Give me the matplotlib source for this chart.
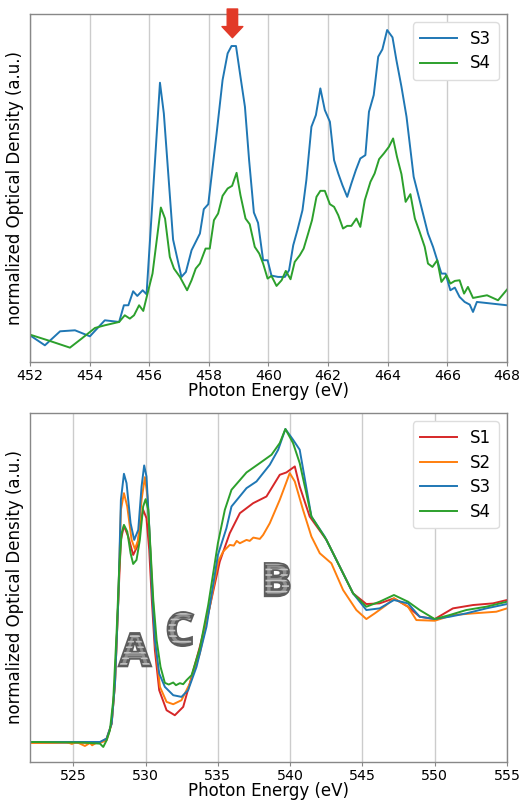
import matplotlib
matplotlib.use("Agg")
import matplotlib.pyplot as plt
import matplotlib.patheffects as pe

plt.rcParams['font.family'] = ['DejaVu Sans']

# ---- Ti L-edge (top panel) ----
ti_e_s3 = [452.00, 452.50, 453.01, 453.51, 454.01, 454.51, 454.99, 455.15, 455.30, 455.46,
           455.60, 455.78, 455.91, 456.36, 456.49, 456.80, 457.08, 457.23, 457.42, 457.56,
           457.70, 457.83, 457.98, 458.26, 458.46, 458.63, 458.76, 458.91, 459.06, 459.21,
           459.35, 459.51, 459.65, 459.82, 459.97, 460.10, 460.32, 460.55, 460.69, 460.83,
           460.97, 461.14, 461.27, 461.44, 461.59, 461.74, 461.89, 462.06, 462.20, 462.34,
           462.48, 462.64, 462.78, 462.93, 463.08, 463.25, 463.37, 463.53, 463.68, 463.82,
           463.98, 464.16, 464.29, 464.46, 464.63, 464.87, 465.07, 465.35, 465.52, 465.66,
           465.80, 465.94, 466.10, 466.25, 466.41, 466.58, 466.75, 466.86, 466.99, 468.00]
ti_od_s3 = [0.080, 0.050, 0.092, 0.095, 0.077, 0.125, 0.120, 0.170, 0.170, 0.212,
            0.198, 0.215, 0.203, 0.837, 0.745, 0.367, 0.255, 0.270, 0.335, 0.360,
            0.385, 0.458, 0.473, 0.685, 0.845, 0.925, 0.947, 0.947, 0.855, 0.765,
            0.605, 0.448, 0.417, 0.305, 0.305, 0.259, 0.255, 0.255, 0.275, 0.350,
            0.395, 0.455, 0.545, 0.705, 0.740, 0.820, 0.755, 0.720, 0.605, 0.565,
            0.530, 0.495, 0.535, 0.575, 0.610, 0.620, 0.750, 0.800, 0.915, 0.937,
            0.995, 0.973, 0.905, 0.825, 0.735, 0.555, 0.485, 0.385, 0.345, 0.305,
            0.265, 0.265, 0.215, 0.223, 0.195, 0.180, 0.172, 0.150, 0.180, 0.170]

ti_e_s4 = [452.00, 452.67, 453.34, 453.73, 454.18, 454.51, 454.99, 455.18, 455.35, 455.49,
           455.66, 455.80, 455.97, 456.11, 456.39, 456.53, 456.69, 456.83, 457.03, 457.27,
           457.42, 457.56, 457.70, 457.89, 458.03, 458.17, 458.31, 458.46, 458.63, 458.78,
           458.93, 459.06, 459.23, 459.37, 459.54, 459.69, 459.82, 459.97, 460.10, 460.27,
           460.44, 460.58, 460.74, 460.88, 461.05, 461.18, 461.33, 461.46, 461.61, 461.74,
           461.89, 462.06, 462.20, 462.34, 462.50, 462.64, 462.78, 462.95, 463.08, 463.23,
           463.42, 463.56, 463.71, 463.87, 464.04, 464.18, 464.31, 464.46, 464.60, 464.76,
           464.91, 465.07, 465.24, 465.35, 465.50, 465.66, 465.80, 465.97, 466.10, 466.25,
           466.41, 466.56, 466.69, 466.86, 467.33, 467.70, 468.00]
ti_od_s4 = [0.082, 0.063, 0.043, 0.070, 0.102, 0.110, 0.120, 0.140, 0.130, 0.140,
            0.170, 0.153, 0.215, 0.265, 0.463, 0.430, 0.315, 0.280, 0.255, 0.215,
            0.245, 0.280, 0.295, 0.340, 0.340, 0.425, 0.445, 0.498, 0.520, 0.528,
            0.567, 0.500, 0.430, 0.413, 0.345, 0.325, 0.295, 0.250, 0.258, 0.228,
            0.245, 0.273, 0.248, 0.300, 0.320, 0.340, 0.385, 0.425, 0.495, 0.513,
            0.513, 0.473, 0.465, 0.440, 0.400, 0.408, 0.408, 0.430, 0.405, 0.485,
            0.540, 0.565, 0.608, 0.625, 0.645, 0.670, 0.615, 0.563, 0.480, 0.503,
            0.430, 0.390, 0.345, 0.295, 0.285, 0.305, 0.240, 0.260, 0.235, 0.243,
            0.245, 0.205, 0.225, 0.192, 0.200, 0.185, 0.217]

# ---- O K-edge (bottom panel) ----
o_e_s1 = [522.00, 526.84, 527.30, 527.65, 527.88, 528.11, 528.29, 528.50, 528.80, 529.14,
          529.42, 529.65, 529.83, 530.06, 530.25, 530.43, 530.64, 530.94, 531.45, 532.02,
          532.60, 533.18, 533.75, 534.44, 535.13, 535.82, 536.52, 537.44, 538.36, 539.28,
          539.74, 540.32, 540.66, 541.35, 542.51, 543.43, 544.35, 545.27, 546.19, 547.18,
          548.15, 548.96, 550.00, 551.26, 552.65, 554.03, 555.00]
o_od_s1 = [0.058, 0.058, 0.070, 0.115, 0.235, 0.485, 0.665, 0.707, 0.675, 0.620,
           0.645, 0.715, 0.755, 0.730, 0.635, 0.485, 0.335, 0.215, 0.155, 0.140,
           0.165, 0.255, 0.345, 0.465, 0.600, 0.685, 0.745, 0.775, 0.795, 0.860,
           0.867, 0.885, 0.825, 0.735, 0.665, 0.585, 0.505, 0.473, 0.475, 0.490,
           0.465, 0.435, 0.428, 0.460, 0.470, 0.475, 0.485]

o_e_s2 = [522.00, 523.60, 524.53, 524.90, 525.20, 525.46, 525.80, 526.15, 526.30, 526.49,
          526.70, 526.84, 527.30, 527.65, 527.88,
          528.11, 528.29, 528.50, 528.73, 529.03, 529.26, 529.49, 529.72, 529.95, 530.13,
          530.29, 530.48, 530.69, 530.99, 531.45, 531.91, 532.48, 533.06, 533.75, 534.44,
          535.02, 535.36, 535.82, 536.10, 536.30, 536.52, 536.75, 536.98, 537.20, 537.45,
          537.67, 537.90, 538.13, 538.59, 539.28, 539.67, 539.97, 540.32, 540.89, 541.47,
          542.05, 542.85, 543.66, 544.58, 545.27, 545.85, 546.65, 547.18, 548.15, 548.73,
          550.00, 551.26, 552.65, 554.26, 555.00]
o_od_s2 = [0.057, 0.058, 0.060, 0.054, 0.060, 0.055, 0.048, 0.057, 0.050, 0.055,
           0.060, 0.057, 0.065, 0.115, 0.235,
           0.485, 0.755, 0.805, 0.765, 0.665, 0.638, 0.665, 0.785, 0.853, 0.795,
           0.665, 0.505, 0.345, 0.225, 0.180, 0.173, 0.185, 0.235, 0.325, 0.465,
           0.600, 0.630, 0.650, 0.648, 0.662, 0.655, 0.660, 0.665, 0.662, 0.672,
           0.670, 0.668, 0.680, 0.715, 0.785, 0.830, 0.865, 0.840, 0.755, 0.675,
           0.625, 0.595, 0.515, 0.455, 0.428, 0.445, 0.470, 0.490, 0.465, 0.425,
           0.423, 0.440, 0.445, 0.450, 0.460]

o_e_s3 = [522.00, 526.84, 527.30, 527.65, 527.88, 528.11, 528.29, 528.50, 528.68, 528.96,
          529.21, 529.49, 529.72, 529.90, 530.06, 530.25, 530.43, 530.64, 530.94, 531.33,
          531.91, 532.48, 532.94, 533.52, 534.21, 535.00, 535.59, 535.94, 536.98, 537.67,
          538.59, 539.17, 539.67, 540.20, 540.66, 541.47, 542.39, 543.43, 544.35, 545.27,
          546.19, 547.18, 548.15, 548.96, 550.00, 551.03, 552.18, 553.57, 555.00]
o_od_s3 = [0.060, 0.060, 0.070, 0.115, 0.235, 0.485, 0.785, 0.863, 0.835, 0.715,
           0.665, 0.695, 0.825, 0.888, 0.855, 0.705, 0.525, 0.365, 0.265, 0.225,
           0.200, 0.195, 0.215, 0.285, 0.405, 0.620, 0.700, 0.765, 0.820, 0.840,
           0.890, 0.935, 0.997, 0.965, 0.935, 0.735, 0.675, 0.585, 0.505, 0.455,
           0.460, 0.485, 0.475, 0.435, 0.428, 0.435, 0.445, 0.460, 0.473]

o_e_s4 = [522.00, 525.69, 526.84, 527.07, 527.30, 527.53, 527.76, 527.99, 528.18, 528.34,
          528.50, 528.73, 528.96, 529.14, 529.37, 529.60, 529.83, 530.00, 530.18, 530.34,
          530.53, 530.76, 531.03, 531.33, 531.60, 531.91, 532.10, 532.37, 532.60, 532.83,
          533.18, 533.75, 534.33, 535.00, 535.48, 535.94, 536.98, 537.90, 538.71, 539.28,
          539.67, 540.20, 540.66, 541.47, 542.51, 543.43, 544.35, 545.27, 546.19, 547.18,
          548.15, 548.96, 550.00, 551.03, 552.18, 553.57, 555.00]
o_od_s4 = [0.060, 0.058, 0.055, 0.045, 0.065, 0.095, 0.185, 0.385, 0.585, 0.685,
           0.710, 0.690, 0.625, 0.593, 0.605, 0.665, 0.765, 0.787, 0.755, 0.635,
           0.485, 0.365, 0.285, 0.237, 0.232, 0.238, 0.230, 0.236, 0.233, 0.245,
           0.260, 0.340, 0.470, 0.655, 0.755, 0.815, 0.867, 0.895, 0.920, 0.955,
           0.997, 0.955, 0.895, 0.735, 0.665, 0.585, 0.505, 0.465, 0.480, 0.500,
           0.480, 0.455, 0.428, 0.440, 0.455, 0.465, 0.480]

ti_ticks = [452, 454, 456, 458, 460, 462, 464, 466, 468]
o_ticks = [525, 530, 535, 540, 545, 550, 555]

C_S1, C_S2, C_S3, C_S4 = '#d62728', '#ff7f0e', '#1f77b4', '#2ca02c'

fig = plt.figure(figsize=(5.25, 8.0), dpi=100)
ax1 = fig.add_axes([0.0571, 0.5475, 0.9086, 0.435])
ax2 = fig.add_axes([0.0571, 0.0475, 0.9086, 0.43625])


def style_axes(ax, xlim, ticks, ylim):
    ax.set_xlim(*xlim)
    ax.set_ylim(*ylim)
    ax.set_xticks(ticks)
    ax.set_yticks([])
    ax.grid(axis='x', color='#cccccc', linewidth=1.0)
    ax.set_axisbelow(True)
    for sp in ax.spines.values():
        sp.set_color('#888888')
        sp.set_linewidth(1.0)
    ax.tick_params(axis='x', labelsize=10.2, length=3, color='#888888', pad=2)
    ax.set_xlabel('Photon Energy (eV)', fontsize=12, labelpad=-1)
    ax.set_ylabel('normalized Optical Density (a.u.)', fontsize=12, labelpad=4)


ax1.plot(ti_e_s3, ti_od_s3, color=C_S3, lw=1.4, label='S3')
ax1.plot(ti_e_s4, ti_od_s4, color=C_S4, lw=1.4, label='S4')
style_axes(ax1, (452, 468), ti_ticks, (0, 1.043))
ax1.legend(loc='upper right', fontsize=12, framealpha=1, edgecolor='#dddddd',
           borderpad=0.45, handlelength=2.2, labelspacing=0.4)

# marker arrow over the 458.8 eV peak
ax1.annotate('', xy=(458.79, 0.972), xytext=(458.79, 1.058),
             annotation_clip=False,
             arrowprops=dict(arrowstyle='simple,head_length=0.8,head_width=1.5,tail_width=0.75',
                             mutation_scale=10, color='#e23a28', shrinkA=0, shrinkB=0))

ax2.plot(o_e_s1, o_od_s1, color=C_S1, lw=1.4, label='S1')
ax2.plot(o_e_s2, o_od_s2, color=C_S2, lw=1.4, label='S2')
ax2.plot(o_e_s3, o_od_s3, color=C_S3, lw=1.4, label='S3')
ax2.plot(o_e_s4, o_od_s4, color=C_S4, lw=1.4, label='S4')
style_axes(ax2, (522, 555), o_ticks, (0, 1.045))
ax2.legend(loc='upper right', fontsize=12, framealpha=1, edgecolor='#dddddd',
           borderpad=0.45, handlelength=2.2, labelspacing=0.4)

# region labels A, B, C: grey striped letters with dark outline
plt.rcParams['hatch.linewidth'] = 1.2
letter_fx = [pe.PathPatchEffect(edgecolor='#5c5c5c', facecolor='#8e8e8e', linewidth=2.4),
             pe.PathPatchEffect(edgecolor='#c2c2c2', facecolor='none', hatch='---', linewidth=0)]
for txt, x, y in [('A', 529.26, 0.323), ('C', 532.37, 0.385), ('B', 539.05, 0.533)]:
    ax2.text(x, y, txt, fontsize=32, fontweight='bold', family=['Open Sans', 'DejaVu Sans'],
             ha='center', va='center', path_effects=letter_fx)

fig.savefig('out.png', dpi=100)
